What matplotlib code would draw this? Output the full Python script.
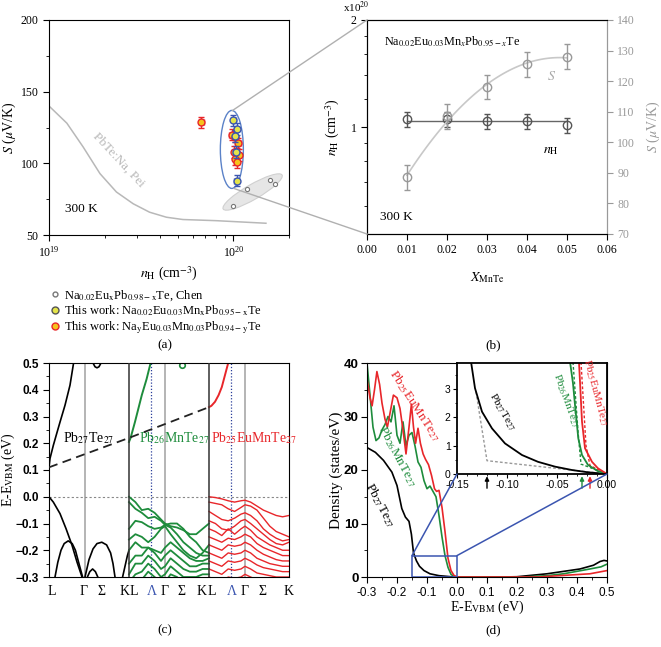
import numpy as np
import matplotlib
matplotlib.use("Agg")
import matplotlib.pyplot as plt
from matplotlib.patches import Ellipse, Rectangle, ConnectionPatch
from matplotlib.transforms import ScaledTranslation
from matplotlib.lines import Line2D
from matplotlib.ticker import MultipleLocator, NullFormatter, FixedLocator

plt.rcParams['font.family'] = ['Liberation Serif', 'DejaVu Serif']
plt.rcParams['mathtext.fontset'] = 'stix'
plt.rcParams['font.size'] = 9

# ---------------- (a) S vs n_H ----------------
pei_n = [1e19, 1.25e19, 1.53e19, 1.89e19, 2.32e19, 2.86e19, 3.51e19, 4.33e19, 5.32e19, 8.05e19, 1.5e20]
pei_s = [140, 128, 111.5, 92.8, 80, 71.8, 65.9, 62.4, 60.8, 60, 58.2]

chen_n = [0.99e20, 1.19e20, 1.58e20, 1.67e20]
chen_s = [70.1, 82.3, 88.1, 85.8]

mn_n = [1.00e20, 1.04e20, 1.02e20, 1.03e20, 1.04e20]
mn_s = [130, 124, 119, 108, 88]

na_n = [0.67e20, 0.98e20, 1.02e20, 1.06e20, 1.01e20, 1.04e20, 1.07e20, 1.02e20, 1.04e20]
na_s = [128.5, 120, 118.6, 113.9, 108, 106.4, 105.7, 102.7, 101]

# ---------------- (b) vs x_MnTe ----------------
x_mnte = [0.01, 0.02, 0.03, 0.04, 0.05]
nh_b = [1.05, 1.05, 1.04, 1.04, 1.01]
s_b = [88.5, 108.5, 118, 125.5, 128]

# ---------------- (c) band structures ----------------
k_labels = ['L', 'Γ', 'Σ', 'K', 'L', 'Λ', 'Γ', 'Σ', 'K', 'L', 'Λ', 'Γ', 'Σ', 'K']
k_label_pos = [0.03, 0.43, 0.66, 0.94, 1.06, 1.28, 1.44, 1.66, 1.91, 2.04, 2.28, 2.45, 2.67, 2.99]

pbte_cb_k = [0, 0.0125, 0.054, 0.096, 0.1375, 0.2, 0.2625, 0.304]
pbte_cb_e = [0.11, 0.143, 0.192, 0.236, 0.279, 0.342, 0.417, 0.494]
pbte_pocket_k = [0.55, 0.575, 0.6, 0.625, 0.65]
pbte_pocket_e = [0.5, 0.486, 0.482, 0.486, 0.5]
pbte_vb_k = [0, 0.054, 0.1375, 0.2125, 0.2875, 0.35, 0.4125]
pbte_vb_e = [0, -0.02, -0.063, -0.119, -0.181, -0.244, -0.3]
pbte_arch1_k = [0.075, 0.11, 0.15, 0.19, 0.24, 0.29, 0.33, 0.37, 0.42]
pbte_arch1_e = [-0.3, -0.245, -0.2, -0.175, -0.165, -0.175, -0.2, -0.245, -0.3]
pbte_arch2_k = [0.45, 0.5, 0.55, 0.6, 0.66, 0.72, 0.77, 0.8, 0.825]
pbte_arch2_e = [-0.3, -0.235, -0.195, -0.175, -0.17, -0.18, -0.21, -0.25, -0.3]
pbte_arch3_k = [0.48, 0.51, 0.545, 0.58, 0.61]
pbte_arch3_e = [-0.3, -0.28, -0.27, -0.28, -0.3]
pbte_k_k = [0.92, 0.95, 0.98, 1.0]
pbte_k_e = [-0.3, -0.26, -0.22, -0.2]

mn_cb_k = [1.0, 1.02, 1.075, 1.16, 1.22, 1.27]
mn_cb_e = [0.205, 0.22, 0.28, 0.38, 0.44, 0.5]
eu_cb_k = [2.0, 2.03, 2.075, 2.12, 2.16, 2.2, 2.24]
eu_cb_e = [0.335, 0.34, 0.355, 0.38, 0.41, 0.455, 0.5]
gap_k = [0, 1, 2]
gap_e = [0.11, 0.22, 0.335]

seg_k = [0, 0.08, 0.16, 0.24, 0.32, 0.40, 0.45, 0.52, 0.60, 0.68, 0.76, 0.84, 0.92, 1.0]
mn_bands = [
    [0.0, -0.02, -0.05, -0.045, -0.06, -0.085, -0.10, -0.11, -0.115, -0.125, -0.14, -0.14, -0.12, -0.10],
    [-0.02, -0.045, -0.06, -0.08, -0.075, -0.09, -0.105, -0.10, -0.10, -0.12, -0.15, -0.17, -0.2, -0.21],
    [-0.12, -0.09, -0.095, -0.11, -0.12, -0.115, -0.105, -0.115, -0.14, -0.17, -0.19, -0.21, -0.22, -0.22],
    [-0.16, -0.14, -0.15, -0.17, -0.15, -0.12, -0.11, -0.14, -0.17, -0.2, -0.22, -0.23, -0.21, -0.18],
    [-0.2, -0.17, -0.19, -0.19, -0.2, -0.21, -0.19, -0.17, -0.19, -0.21, -0.23, -0.24, -0.24, -0.23],
    [-0.25, -0.22, -0.22, -0.19, -0.21, -0.24, -0.22, -0.2, -0.22, -0.24, -0.26, -0.26, -0.25, -0.25],
    [-0.29, -0.25, -0.25, -0.22, -0.24, -0.27, -0.26, -0.23, -0.25, -0.27, -0.28, -0.28, -0.27, -0.27],
    [-0.32, -0.29, -0.28, -0.25, -0.27, -0.30, -0.29, -0.26, -0.28, -0.30, -0.30, -0.30, -0.29, -0.29],
    [-0.34, -0.32, -0.31, -0.28, -0.3, -0.32, -0.32, -0.29, -0.30, -0.32, -0.32, -0.32, -0.31, -0.31],
]
eu_bands = [
    [0.0, -0.003, -0.008, -0.015, -0.02, -0.015, -0.013, -0.02, -0.035, -0.05, -0.06, -0.07, -0.075, -0.07],
    [-0.02, -0.025, -0.03, -0.045, -0.055, -0.04, -0.03, -0.035, -0.05, -0.08, -0.11, -0.13, -0.14, -0.15],
    [-0.055, -0.07, -0.085, -0.09, -0.08, -0.065, -0.06, -0.07, -0.09, -0.12, -0.14, -0.155, -0.165, -0.16],
    [-0.09, -0.1, -0.12, -0.125, -0.11, -0.09, -0.085, -0.1, -0.12, -0.14, -0.16, -0.175, -0.18, -0.17],
    [-0.12, -0.13, -0.145, -0.12, -0.14, -0.12, -0.11, -0.125, -0.15, -0.165, -0.18, -0.19, -0.2, -0.2],
    [-0.15, -0.16, -0.17, -0.155, -0.16, -0.15, -0.14, -0.15, -0.175, -0.19, -0.2, -0.21, -0.22, -0.22],
    [-0.18, -0.19, -0.2, -0.18, -0.185, -0.18, -0.17, -0.18, -0.2, -0.215, -0.225, -0.235, -0.24, -0.24],
    [-0.21, -0.22, -0.23, -0.21, -0.215, -0.21, -0.2, -0.21, -0.23, -0.24, -0.25, -0.255, -0.26, -0.26],
    [-0.24, -0.25, -0.26, -0.24, -0.245, -0.24, -0.23, -0.24, -0.255, -0.265, -0.27, -0.275, -0.28, -0.28],
    [-0.27, -0.28, -0.29, -0.27, -0.275, -0.27, -0.26, -0.27, -0.285, -0.29, -0.295, -0.3, -0.3, -0.3],
    [-0.3, -0.31, -0.32, -0.3, -0.305, -0.3, -0.29, -0.3, -0.31, -0.315, -0.32, -0.32, -0.32, -0.32],
]

# ---------------- (d) density of states ----------------
dos_black_e = [-0.3, -0.272, -0.245, -0.217, -0.2, -0.184, -0.172, -0.16, -0.152, -0.145, -0.135, -0.125,
               -0.11, -0.09, -0.06, -0.02, 0.0, 0.15, 0.2, 0.3, 0.41, 0.455, 0.477, 0.49, 0.5]
dos_black = [24.2, 23.3, 21.8, 19.6, 17.1, 12.8, 11.2, 10.4, 8.0, 4.5, 3.0, 2.0,
             1.2, 0.6, 0.25, 0.05, 0.0, 0.0, 0.05, 0.6, 1.5, 2.2, 2.9, 3.1, 3.0]
dos_green_e = [-0.3, -0.29, -0.28, -0.27, -0.26, -0.25, -0.24, -0.23, -0.22, -0.21, -0.2, -0.19, -0.18, -0.17,
               -0.16, -0.15, -0.14, -0.13, -0.12, -0.11, -0.1, -0.09, -0.08, -0.07, -0.06, -0.05, -0.04, -0.03,
               -0.02, -0.01, 0.0, 0.22, 0.3, 0.355, 0.443, 0.48, 0.5]
dos_green = [40, 34, 28, 25.5, 26, 27.5, 28.5, 30, 29, 32, 26.5, 25, 29, 24.5,
             26.5, 27, 24.5, 21.5, 20.5, 18, 16.5, 17, 16, 15, 11.5, 7.5, 4, 1.8,
             0.5, 0.1, 0, 0, 0.25, 0.6, 1.5, 1.9, 2.4]
dos_red_e = [-0.3, -0.29, -0.283, -0.275, -0.267, -0.258, -0.25, -0.24, -0.232, -0.222, -0.212, -0.2, -0.19,
             -0.18, -0.17, -0.16, -0.152, -0.145, -0.138, -0.13, -0.122, -0.113, -0.105, -0.095, -0.085, -0.075,
             -0.068, -0.06, -0.05, -0.04, -0.03, -0.02, -0.01, 0.0, 0.27, 0.355, 0.443, 0.5]
dos_red = [37, 33.5, 32, 35, 38.4, 36, 32.5, 29.5, 28, 31, 34, 33.5, 31.5,
           27.5, 23, 28, 32.3, 28, 25, 27.8, 25, 23, 22, 21, 19, 16.5,
           16, 16.2, 13, 8.5, 3.5, 1.2, 0.3, 0, 0, 0.3, 0.6, 1.2]

ins_black_e = [-0.136, -0.132, -0.125, -0.115, -0.102, -0.085, -0.069, -0.052, -0.035, -0.019, 0.0]
ins_black = [3.97, 3.03, 2.2, 1.61, 1.08, 0.67, 0.43, 0.26, 0.14, 0.06, 0.0]
ins_black_fit_e = [-0.131, -0.12, 0.0]
ins_black_fit = [2.9, 0.47, 0.0]
ins_green_e = [-0.037, -0.034, -0.032, -0.0287, -0.025, -0.019, -0.009, 0.0]
ins_green = [3.97, 3.2, 2.44, 1.26, 0.67, 0.32, 0.1, 0.0]
ins_green_fit_e = [-0.034, -0.029, -0.026, 0.0]
ins_green_fit = [3.95, 1.5, 0.35, 0.0]
ins_red_e = [-0.028, -0.025, -0.022, -0.015, -0.009, 0.0]
ins_red = [3.95, 1.85, 0.91, 0.43, 0.2, 0.0]
ins_red_fit_e = [-0.026, -0.021, -0.017, 0.0]
ins_red_fit = [3.95, 1.0, 0.3, 0.0]
arrow_e = [-0.12, -0.025, -0.017]

GREEN = '#1e8c3c'
RED = '#e8262a'
BLUE = '#3b55b0'
W, H = 661, 647
fig = plt.figure(figsize=(W / 100, H / 100), dpi=100)


def box(l, t, r, b):
    return [l / W, 1 - b / H, (r - l) / W, (b - t) / H]


def px_ellipse(ax, xc, yc, w, h, angle, **kw):
    tr = fig.dpi_scale_trans + ScaledTranslation(xc, yc, ax.transData)
    ax.add_patch(Ellipse((0, 0), w / 100, h / 100, angle=angle, transform=tr, **kw))


# ---- (a)
ax = fig.add_axes(box(49, 20, 289, 235))
ax.set_xscale('log')
ax.set_xlim(1e19, 2e20)
ax.set_ylim(50, 200)
ax.set_yticks([50, 100, 150, 200])
ax.yaxis.set_minor_locator(MultipleLocator(25))
ax.xaxis.set_minor_formatter(NullFormatter())
ax.tick_params(which='both', direction='out', labelsize=8.5)
ax.tick_params(which='major', length=4)
ax.tick_params(which='minor', length=2.5)
ax.plot(pei_n, pei_s, color='#b8b8b8', lw=1.1)
ax.text(2.39e19, 102.7, 'PbTe:Na, Pei', color='#b8b8b8', rotation=-47, ha='center', va='center', fontsize=9.5)
ax.text(1.22e19, 68.3, '300 K', ha='left', va='center', fontsize=9.5)
px_ellipse(ax, 1.27e20, 80, 68, 15, 30, facecolor='#e6e6e6', edgecolor='#d0d0d0', lw=0.8, zorder=1)
px_ellipse(ax, 0.98e20, 109.7, 23, 78, 0, facecolor='none', edgecolor='#5b82c8', lw=1, zorder=2)
ax.plot(chen_n, chen_s, 'o', ms=3, mfc='white', mec='#777777', mew=0.8, zorder=3)
ax.errorbar(na_n, na_s, xerr=[0.03 * v for v in na_n], yerr=4, fmt='o', ms=5, mfc='#f6c21c', mec=RED,
            ecolor=RED, elinewidth=1, capsize=2, zorder=4)
ax.errorbar(mn_n, mn_s, xerr=[0.03 * v for v in mn_n], yerr=4, fmt='o', ms=5, mfc='#e4e44a', mec=BLUE,
            ecolor=BLUE, elinewidth=1, capsize=2, zorder=5)
ax.set_ylabel(r'$S$ ($\mu$V/K)', fontsize=10)
ax.yaxis.set_label_coords(-0.13, 0.5)
ax.set_xlabel(r'$n_{\rm H}$ (cm$^{-3}$)', fontsize=10)
ax.xaxis.set_label_coords(0.5, -0.14)
handles = [
    Line2D([], [], marker='o', ls='', ms=3.5, mfc='white', mec='#777777'),
    Line2D([], [], marker='o', ls='', ms=5, mfc='#e4e44a', mec='#555555'),
    Line2D([], [], marker='o', ls='', ms=5, mfc='#f6c21c', mec=RED),
]
labels = [
    r'Na$_{0.02}$Eu$_{\rm x}$Pb$_{\rm 0.98-x}$Te, Chen',
    r'This work: Na$_{0.02}$Eu$_{0.03}$Mn$_{\rm x}$Pb$_{\rm 0.95-x}$Te',
    r'This work: Na$_{\rm y}$Eu$_{0.03}$Mn$_{0.03}$Pb$_{\rm 0.94-y}$Te',
]
fig.legend(handles, labels, loc='upper left', bbox_to_anchor=(44 / W, 1 - 282 / H), frameon=False,
           fontsize=9, handlelength=0.8, handletextpad=0.3, labelspacing=0.1, borderpad=0)

# ---- (b)
bx = fig.add_axes(box(367, 20, 607, 234))
bx.set_xlim(0, 0.06)
bx.set_yscale('log')
bx.set_ylim(0.5, 2)
bx.yaxis.set_major_locator(FixedLocator([1, 2]))
bx.yaxis.set_minor_locator(FixedLocator([0.6, 0.7, 0.8, 0.9, 1.2, 1.4, 1.6, 1.8]))
bx.yaxis.set_minor_formatter(NullFormatter())
bx.set_yticklabels(['1', '2'])
bx.set_xticks(np.arange(0, 0.061, 0.01))
bx.set_xticklabels(['%.2f' % v for v in np.arange(0, 0.061, 0.01)])
bx.tick_params(which='both', direction='out', labelsize=8.5)
bx.tick_params(which='major', length=4)
bx.tick_params(which='minor', length=2.5)
nh_mean = np.mean(nh_b)
bx.plot([x_mnte[0], x_mnte[-1]], [nh_mean, nh_mean], color='#666666', lw=1)
bx.errorbar(x_mnte, nh_b, yerr=0.05, fmt='o', ms=6, mfc='none', mec='#555555', ecolor='#555555',
            elinewidth=1, capsize=2.5, zorder=4)
bx.set_ylabel(r'$n_{\rm H}$ (cm$^{-3}$)', fontsize=10)
bx.yaxis.set_label_coords(-0.105, 0.5)
bx.set_xlabel(r'$X_{\rm MnTe}$', fontsize=10)
bx.xaxis.set_label_coords(0.5, -0.17)
bx.text(-0.045, 1.06, r'x10$^{20}$', transform=bx.transAxes, ha='center', va='center', fontsize=8)
bx.text(0.07, 0.9, r'Na$_{0.02}$Eu$_{0.03}$Mn$_{x}$Pb$_{0.95-x}$Te',
        transform=bx.transAxes, ha='left', va='center', fontsize=8.8)
bx.text(0.055, 0.08, '300 K', transform=bx.transAxes, ha='left', va='center', fontsize=9.5)
bx.text(0.0459, 0.86, r'$n_{\rm H}$', ha='center', va='center', fontsize=10)
bx.spines['right'].set_color('#999999')

bx2 = bx.twinx()
bx2.set_ylim(70, 140)
bx2.set_yticks(range(70, 141, 10))
bx2.tick_params(direction='out', length=4, colors='#999999', labelsize=8.5)
bx2.spines['right'].set_color('#999999')
coef = np.polyfit(x_mnte, s_b, 2)
xs = np.linspace(x_mnte[0], x_mnte[-1], 100)
bx2.plot(xs, np.polyval(coef, xs), color='#c8c8c8', lw=1.2)
bx2.errorbar(x_mnte, s_b, yerr=4, fmt='o', ms=6, mfc='none', mec='#999999', ecolor='#999999',
             elinewidth=1, capsize=2.5, zorder=4)
bx2.text(0.0462, 121.5, r'$S$', color='#aaaaaa', ha='center', va='center', fontsize=10)
bx2.set_ylabel(r'$S$ ($\mu$V/K)', color='#999999', fontsize=10, rotation=90)
bx2.yaxis.set_label_coords(1.155, 0.5)

# zoom lines between (a) and (b)
fig.add_artist(Line2D([232.5 / W, 367 / W], [1 - 110.5 / H, 1 - 20 / H], color='#b0b0b0', lw=1))
fig.add_artist(Line2D([234 / W, 367 / W], [1 - 188.5 / H, 1 - 234 / H], color='#b0b0b0', lw=1))

# ---- (c)
cx = fig.add_axes(box(49, 363, 289, 577))
cx.set_xlim(0, 3)
cx.set_ylim(-0.3, 0.5)
cx.yaxis.set_major_locator(MultipleLocator(0.1))
cx.yaxis.set_minor_locator(MultipleLocator(0.05))
cx.set_yticklabels([], minor=True)
cx.tick_params(axis='y', which='both', direction='out', labelsize=8.5)
cx.tick_params(axis='y', which='major', length=4)
cx.tick_params(axis='y', which='minor', length=2.5)
for lab in cx.get_yticklabels():
    lab.set_fontfamily('Liberation Sans')
    lab.set_fontweight('bold')
cx.set_xticks(k_label_pos)
cx.set_xticklabels(k_labels, fontsize=10)
cx.tick_params(axis='x', length=0, pad=6)
for lab in cx.get_xticklabels():
    if lab.get_text() == 'Λ':
        lab.set_color(BLUE)
cx.set_ylabel(r'E-E$_{\rm VBM}$ (eV)', fontsize=10)
cx.yaxis.set_label_coords(-0.135, 0.5)
for g in [0.45, 1.45, 2.45]:
    cx.axvline(g, color='#b4b4b4', lw=1.4, zorder=1)
for b in [1, 2]:
    cx.axvline(b, color='#333333', lw=1.1, zorder=3)
for lam in [1.275, 2.275]:
    cx.axvline(lam, color='#2a3f9a', lw=0.9, ls=(0, (1, 1.5)), zorder=1)
cx.axhline(0, color='#888888', lw=0.8, ls=(0, (2, 2)), zorder=1)
for kk, ee in [(pbte_cb_k, pbte_cb_e), (pbte_pocket_k, pbte_pocket_e), (pbte_vb_k, pbte_vb_e),
               (pbte_arch1_k, pbte_arch1_e), (pbte_arch2_k, pbte_arch2_e), (pbte_arch3_k, pbte_arch3_e),
               (pbte_k_k, pbte_k_e)]:
    cx.plot(kk, ee, color='black', lw=1.2, zorder=2)
cx.plot(mn_cb_k, mn_cb_e, color=GREEN, lw=1.4, zorder=2)
cx.plot([1.66], [0.492], 'o', ms=4, mfc='none', mec=GREEN, mew=1.2)
for band in mn_bands:
    cx.plot([1 + s for s in seg_k], band, color=GREEN, lw=1.3, zorder=2)
cx.plot(eu_cb_k, eu_cb_e, color=RED, lw=1.4, zorder=2)
for band in eu_bands:
    cx.plot([2 + s for s in seg_k], band, color=RED, lw=1.0, zorder=2)
cx.plot(gap_k, gap_e, color='#222222', lw=1.3, ls=(0, (5, 3)), zorder=4)
cx.text(0.18, 0.218, r'Pb$_{27}$Te$_{27}$', color='black', fontsize=10, va='center', ha='left')
cx.text(1.13, 0.218, r'Pb$_{26}$MnTe$_{27}$', color=GREEN, fontsize=10, va='center', ha='left')
cx.text(2.03, 0.218, r'Pb$_{25}$EuMnTe$_{27}$', color=RED, fontsize=10, va='center', ha='left')

# ---- (d)
dx = fig.add_axes(box(367, 363, 607, 577))
dx.set_xlim(-0.3, 0.5)
dx.set_ylim(0, 40)
dx.xaxis.set_major_locator(MultipleLocator(0.1))
dx.xaxis.set_minor_locator(MultipleLocator(0.05))
dx.yaxis.set_major_locator(MultipleLocator(10))
dx.yaxis.set_minor_locator(MultipleLocator(5))
dx.tick_params(which='both', direction='out', labelsize=8.5)
dx.tick_params(axis='y', labelsize=9.5, pad=2)
dx.tick_params(which='major', length=4)
dx.tick_params(which='minor', length=2.5)
dx.set_xticklabels(['%.1f' % v if abs(v) > 1e-9 else '0.0' for v in dx.get_xticks()])
for lab in dx.get_xticklabels():
    lab.set_fontfamily('Liberation Sans')
for lab in dx.get_yticklabels():
    lab.set_fontfamily('Liberation Sans')
    lab.set_fontweight('bold')
dx.plot(dos_black_e, dos_black, color='black', lw=1.2)
dx.plot(dos_green_e, dos_green, color=GREEN, lw=1.2)
dx.plot(dos_red_e, dos_red, color=RED, lw=1.2)
dx.text(-0.14, 32, r'Pb$_{25}$EuMnTe$_{27}$', color=RED, rotation=-57, ha='center', va='center', fontsize=9.5)
dx.text(-0.2, 22.5, r'Pb$_{26}$MnTe$_{27}$', color=GREEN, rotation=-62, ha='center', va='center', fontsize=9.5)
dx.text(-0.255, 13.5, r'Pb$_{27}$Te$_{27}$', color='black', rotation=-62, ha='center', va='center', fontsize=9.5)
dx.add_patch(Rectangle((-0.15, 0), 0.15, 4, fill=False, edgecolor=BLUE, lw=1.1, zorder=5))
dx.set_ylabel('Density (states/eV)', fontsize=11)
dx.yaxis.set_label_coords(-0.1, 0.5)
dx.set_xlabel(r'E-E$_{\rm VBM}$ (eV)', fontsize=10)
dx.xaxis.set_label_coords(0.5, -0.1)

ix = fig.add_axes(box(457, 363, 607, 474))
ix.set_xlim(-0.15, 0.0)
ix.set_ylim(0, 3.92)
ix.xaxis.set_major_locator(MultipleLocator(0.05))
ix.xaxis.set_minor_locator(MultipleLocator(0.01))
ix.yaxis.set_major_locator(MultipleLocator(1))
ix.yaxis.set_minor_locator(MultipleLocator(0.5))
ix.tick_params(which='both', direction='out', labelsize=7.5, pad=1.5)
ix.tick_params(which='major', length=3)
ix.tick_params(which='minor', length=1.5)
ix.set_xticklabels(['%.2f' % v for v in ix.get_xticks()])
for lab in ix.get_xticklabels() + ix.get_yticklabels():
    lab.set_fontfamily('Liberation Sans')
for sp in ix.spines.values():
    sp.set_linewidth(1.3)
ix.plot(ins_black_fit_e, ins_black_fit, color='#999999', lw=1, ls=(0, (2, 1.5)))
ix.plot(ins_green_fit_e, ins_green_fit, color=GREEN, lw=1, ls=(0, (2, 1.5)))
ix.plot(ins_red_fit_e, ins_red_fit, color=RED, lw=1, ls=(0, (2, 1.5)))
ix.plot(ins_black_e, ins_black, color='black', lw=1.3)
ix.plot(ins_green_e, ins_green, color=GREEN, lw=1.3)
ix.plot(ins_red_e, ins_red, color=RED, lw=1.3)
ix.text(-0.105, 2.2, r'Pb$_{27}$Te$_{27}$', rotation=-60, ha='center', va='center', fontsize=8)
ix.text(-0.041, 2.6, r'Pb$_{26}$MnTe$_{27}$', color=GREEN, rotation=-70, ha='center', va='center', fontsize=8)
ix.text(-0.012, 2.85, r'Pb$_{25}$EuMnTe$_{27}$', color=RED, rotation=-75, ha='center', va='center', fontsize=8)
for e, c in zip(arrow_e, ['black', GREEN, RED]):
    ix.annotate('', xy=(e, 0.02), xytext=(e, -0.6), annotation_clip=False,
                arrowprops=dict(arrowstyle='-|>', color=c, lw=1, mutation_scale=6))
for xa, xb in [((-0.15, 4), (0, 0)), ((0.0, 4), (1, 0))]:
    fig.add_artist(ConnectionPatch(xyA=xa, coordsA=dx.transData, xyB=xb, coordsB=ix.transAxes,
                                   color=BLUE, lw=1.1))

fig.text(165 / W, 1 - 345 / H, '(a)', ha='center', va='center', fontsize=9.5)
fig.text(493 / W, 1 - 345 / H, '(b)', ha='center', va='center', fontsize=9.5)
fig.text(165 / W, 1 - 630 / H, '(c)', ha='center', va='center', fontsize=9.5)
fig.text(493 / W, 1 - 630 / H, '(d)', ha='center', va='center', fontsize=9.5)

fig.savefig('out.png', dpi=100)
